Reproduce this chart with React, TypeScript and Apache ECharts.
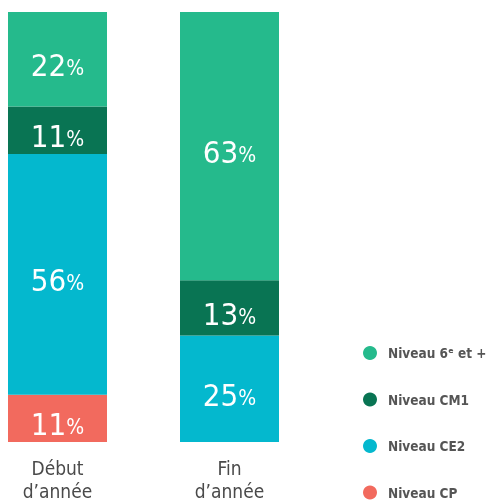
import React, { useEffect, useRef } from "react";
import * as echarts from "echarts";

const categories = ["Début\nd’année", "Fin\nd’année"];
const levelNames = ["Niveau CP", "Niveau CE2", "Niveau CM1", "Niveau 6ᵉ et +"];
const cpValues: (number | null)[] = [11, null];
const ce2Values: (number | null)[] = [56, 25];
const cm1Values: (number | null)[] = [11, 13];
const sixValues: (number | null)[] = [22, 63];
const colors = ["#F26A5E", "#04B8CE", "#097453", "#25BA8C"];
const legendOrder = ["Niveau 6ᵉ et +", "Niveau CM1", "Niveau CE2", "Niveau CP"];

const FONT = "'DejaVu Sans Condensed', sans-serif";

export default function App() {
  const ref = useRef<HTMLDivElement>(null);
  useEffect(() => {
    if (!ref.current) return;
    const chart = echarts.init(ref.current, undefined, { renderer: "svg" });
    const all = [cpValues, ce2Values, cm1Values, sixValues];
    const totals = categories.map((_, i) =>
      all.reduce((s, arr) => s + (arr[i] ?? 0), 0)
    );
    const series = all.map((arr, k) => ({
      name: levelNames[k],
      type: "bar",
      stack: "total",
      barWidth: 99,
      clip: false,
      itemStyle: { color: colors[k] },
      data: arr.map((v, i) =>
        v == null ? null : { value: (v / totals[i]) * 100, raw: v }
      ),
      label: {
        show: true,
        position: "inside",
        offset: [0, 6],
        formatter: (p: any) => `{n|${p.data.raw}}{p|%}`,
        rich: {
          n: { fontFamily: FONT, fontSize: 31, color: "#ffffff", fontWeight: "normal" },
          p: { fontFamily: FONT, fontSize: 21, color: "#ffffff", padding: [6, 0, 0, 0] },
        },
      },
    }));
    chart.setOption({
      animation: false,
      legend: {
        orient: "vertical",
        left: 363,
        top: 346,
        padding: 0,
        itemWidth: 14,
        itemHeight: 14,
        itemGap: 32.5,
        icon: "circle",
        data: legendOrder,
        textStyle: {
          fontFamily: FONT,
          fontSize: 13.5,
          fontWeight: "bold",
          color: "#555555",
          padding: [0, 0, 0, 6],
        },
      },
      grid: { left: 57.5, top: 12, width: 172, bottom: 62 },
      xAxis: {
        type: "category",
        data: categories,
        boundaryGap: false,
        axisLine: { show: false },
        axisTick: { show: false },
        axisLabel: {
          margin: 14,
          fontFamily: FONT,
          fontSize: 19,
          lineHeight: 23,
          color: "#4a4a4a",
        },
      },
      yAxis: {
        type: "value",
        min: 0,
        max: 100,
        show: false,
      },
      series,
    });
    return () => chart.dispose();
  }, []);
  return (
    <div
      ref={ref}
      style={{ position: "fixed", left: 0, top: 0, width: 489, height: 504 }}
    />
  );
}
